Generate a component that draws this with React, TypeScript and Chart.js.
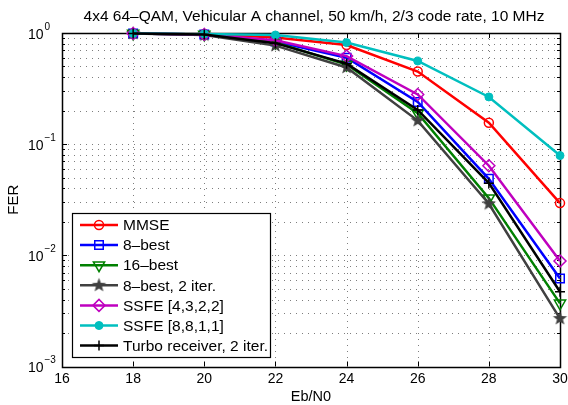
import React, { useEffect, useRef } from 'react';
import { Chart, registerables } from 'chart.js';
import { drawPoint } from 'chart.js/helpers';

Chart.register(...registerables);

// ---------- data ----------
const ebn0 = [18, 20, 22, 24, 26, 28, 30];
const mmse = [0.99, 0.98, 0.91, 0.78, 0.45, 0.156, 0.0295];
const best8 = [0.99, 0.97, 0.84, 0.6, 0.24, 0.0488, 0.0062];
const best16 = [0.99, 0.97, 0.82, 0.52, 0.19, 0.0327, 0.0037];
const best8iter2 = [0.99, 0.96, 0.77, 0.49, 0.163, 0.0291, 0.0027];
const ssfe4322 = [0.99, 0.97, 0.86, 0.62, 0.28, 0.064, 0.0089];
const ssfe8811 = [0.99, 0.98, 0.96, 0.82, 0.56, 0.266, 0.079];
const turbo2 = [0.99, 0.97, 0.81, 0.53, 0.203, 0.0446, 0.0047];

const seriesNames = [
  'MMSE',
  '8–best',
  '16–best',
  '8–best, 2 iter.',
  'SSFE [4,3,2,2]',
  'SSFE [8,8,1,1]',
  'Turbo receiver, 2 iter.',
];
const seriesValues = [mmse, best8, best16, best8iter2, ssfe4322, ssfe8811, turbo2];

const xTicks = [16, 18, 20, 22, 24, 26, 28, 30];
const yDecades = [-3, -2, -1, 0];
const titleText = '4x4 64–QAM, Vehicular A channel, 50 km/h, 2/3 code rate, 10 MHz';
const xTitle = 'Eb/N0';
const yTitle = 'FER';

const FONT = '"Liberation Sans", Arial, Helvetica, sans-serif';

function makeStar(color: string, r: number) {
  const size = Math.ceil(r * 2 + 2);
  const c = document.createElement('canvas');
  c.width = size;
  c.height = size;
  const g = c.getContext('2d')!;
  g.translate(size / 2, size / 2);
  g.beginPath();
  for (let i = 0; i < 10; i++) {
    const rad = i % 2 === 0 ? r : r * 0.42;
    const a = -Math.PI / 2 + (i * Math.PI) / 5;
    g.lineTo(rad * Math.cos(a), rad * Math.sin(a));
  }
  g.closePath();
  g.fillStyle = color;
  g.fill();
  return c;
}

export default function App() {
  const ref = useRef<HTMLCanvasElement>(null);

  useEffect(() => {
    document.body.style.margin = '0';
    const star = makeStar('#404040', 7.5);
    const styles: any[] = [
      { color: '#ff0000', pointStyle: 'circle', radius: 4.5, fill: 'rgba(0,0,0,0)', bw: 1.5, rotation: 0 },
      { color: '#0000ff', pointStyle: 'rect', radius: 6, fill: 'rgba(0,0,0,0)', bw: 1.5, rotation: 0 },
      { color: '#008000', pointStyle: 'triangle', radius: 6.5, fill: 'rgba(0,0,0,0)', bw: 1.5, rotation: 180 },
      { color: '#404040', pointStyle: star, radius: 8, fill: '#404040', bw: 0, rotation: 0 },
      { color: '#bf00bf', pointStyle: 'rectRot', radius: 6, fill: 'rgba(0,0,0,0)', bw: 1.5, rotation: 0 },
      { color: '#00bfbf', pointStyle: 'circle', radius: 4, fill: '#00bfbf', bw: 1, rotation: 0 },
      { color: '#000000', pointStyle: 'cross', radius: 5, fill: '#000000', bw: 1.5, rotation: 0 },
    ];

    const datasets = seriesValues.map((vals, i) => ({
      label: seriesNames[i],
      data: ebn0.map((x, j) => ({ x, y: vals[j] })),
      borderColor: styles[i].color,
      backgroundColor: styles[i].fill,
      borderWidth: 2.5,
      pointStyle: styles[i].pointStyle,
      pointRadius: styles[i].radius,
      pointRotation: styles[i].rotation,
      pointBorderWidth: styles[i].bw,
      pointBorderColor: styles[i].color,
      pointBackgroundColor: styles[i].fill,
      tension: 0,
      clip: false as any,
      order: seriesValues.length - 1 - i,
    }));

    const decor = {
      id: 'decor',
      beforeDatasetsDraw(chart: any) {
        const { ctx, chartArea: a, scales } = chart;
        const xs = scales.x;
        const ys = scales.y;
        ctx.save();
        // dotted grid
        ctx.strokeStyle = 'rgba(40,40,40,0.6)';
        ctx.lineWidth = 1;
        ctx.setLineDash([1, 5]);
        for (const v of xTicks) {
          if (v === xTicks[0] || v === xTicks[xTicks.length - 1]) continue;
          const px = Math.round(xs.getPixelForValue(v)) + 0.5;
          ctx.beginPath();
          ctx.moveTo(px, a.top);
          ctx.lineTo(px, a.bottom);
          ctx.stroke();
        }
        for (const e of yDecades) {
          for (let m = 1; m <= 9; m++) {
            if (e === 0 && m > 1) break;
            const v = m * Math.pow(10, e);
            if (v <= 0.001 || v >= 1) continue;
            const py = Math.round(ys.getPixelForValue(v)) + 0.5;
            ctx.beginPath();
            ctx.moveTo(a.left, py);
            ctx.lineTo(a.right, py);
            ctx.stroke();
          }
        }
        ctx.setLineDash([]);
        // inward ticks
        ctx.strokeStyle = '#000';
        for (const v of xTicks) {
          const px = Math.round(xs.getPixelForValue(v)) + 0.5;
          ctx.beginPath();
          ctx.moveTo(px, a.bottom);
          ctx.lineTo(px, a.bottom - 5);
          ctx.moveTo(px, a.top);
          ctx.lineTo(px, a.top + 5);
          ctx.stroke();
        }
        for (const e of yDecades) {
          for (let m = 1; m <= 9; m++) {
            if (e === 0 && m > 1) break;
            const v = m * Math.pow(10, e);
            const py = Math.round(ys.getPixelForValue(v)) + 0.5;
            const len = m === 1 ? 5 : 3;
            ctx.beginPath();
            ctx.moveTo(a.left, py);
            ctx.lineTo(a.left + len, py);
            ctx.moveTo(a.right, py);
            ctx.lineTo(a.right - len, py);
            ctx.stroke();
          }
        }
        // border
        ctx.lineWidth = 1.5;
        ctx.strokeRect(Math.round(a.left) + 0.5, Math.round(a.top) + 0.5, Math.round(a.right - a.left), Math.round(a.bottom - a.top));
        ctx.restore();
      },
      afterDatasetsDraw(chart: any) {
        const { ctx } = chart;
        ctx.save();
        // legend box
        const bx = 72, by = 213, bw = 198, bh = 144;
        ctx.fillStyle = '#fff';
        ctx.fillRect(bx, by, bw, bh);
        ctx.strokeStyle = '#000';
        ctx.lineWidth = 1.2;
        ctx.strokeRect(bx + 0.5, by + 0.5, bw, bh);
        seriesNames.forEach((name, i) => {
          const y = 225 + i * 20.1;
          const st = styles[i];
          ctx.strokeStyle = st.color;
          ctx.lineWidth = 2.5;
          ctx.beginPath();
          ctx.moveTo(80, y);
          ctx.lineTo(118, y);
          ctx.stroke();
          ctx.fillStyle = st.fill;
          ctx.strokeStyle = st.color;
          ctx.lineWidth = st.bw;
          drawPoint(ctx, { pointStyle: st.pointStyle, radius: st.radius, rotation: st.rotation, borderWidth: st.bw } as any, 99, y);
          ctx.fillStyle = '#000';
          ctx.font = `15.5px ${FONT}`;
          ctx.textAlign = 'left';
          ctx.textBaseline = 'middle';
          ctx.fillText(name, 123, y + 1);
        });
        ctx.restore();
      },
      afterDraw(chart: any) {
        const { ctx, chartArea: a, scales } = chart;
        const ys = scales.y;
        ctx.save();
        ctx.fillStyle = '#000';
        // title
        ctx.font = `15.5px ${FONT}`;
        ctx.textAlign = 'center';
        ctx.textBaseline = 'alphabetic';
        ctx.fillText(titleText, (a.left + a.right) / 2 + 3, 21);
        // y tick labels
        for (const e of yDecades) {
          const py = ys.getPixelForValue(Math.pow(10, e));
          ctx.font = `14px ${FONT}`;
          ctx.textAlign = 'right';
          ctx.textBaseline = 'middle';
          ctx.fillText('10', 43.5, py + 2);
          ctx.font = `10px ${FONT}`;
          ctx.textAlign = 'left';
          ctx.fillText(e === 0 ? '0' : '−' + String(-e), 44.5, py - 6);
        }
        // axis titles
        ctx.font = `14.5px ${FONT}`;
        ctx.textAlign = 'center';
        ctx.textBaseline = 'middle';
        ctx.fillText(xTitle, (a.left + a.right) / 2, 397);
        ctx.font = `15px ${FONT}`;
        ctx.translate(14, (a.top + a.bottom) / 2);
        ctx.rotate(-Math.PI / 2);
        ctx.fillText(yTitle, 0, 0);
        ctx.restore();
      },
    };

    const chart = new Chart(ref.current!, {
      type: 'line',
      data: { datasets: datasets as any },
      options: {
        animation: false,
        responsive: false,
        layout: { padding: { top: 33, right: 6.5, left: 0, bottom: 0 } },
        plugins: { legend: { display: false }, tooltip: { enabled: false }, title: { display: false } },
        scales: {
          x: {
            type: 'linear',
            min: 16,
            max: 30,
            afterFit: (s: any) => {
              s.height = 38.5;
              s.paddingLeft = 0;
              s.paddingRight = 0;
            },
            afterBuildTicks: (s: any) => { s.ticks = xTicks.map((v) => ({ value: v })); },
            grid: { display: false, drawTicks: false },
            border: { display: false },
            ticks: { color: '#000', font: { size: 14, family: FONT }, padding: 4, maxRotation: 0, autoSkip: false },
          },
          y: {
            type: 'logarithmic',
            min: 0.001,
            max: 1,
            afterFit: (s: any) => {
              s.width = 62;
              s.paddingTop = 0;
              s.paddingBottom = 0;
            },
            grid: { display: false, drawTicks: false },
            border: { display: false },
            ticks: { display: false },
          },
        },
      },
      plugins: [decor],
    });
    return () => chart.destroy();
  }, []);

  return (
    <div style={{ width: 568, height: 405, background: '#fff' }}>
      <canvas ref={ref} width={568} height={405} style={{ display: 'block', width: 568, height: 405 }} />
    </div>
  );
}
